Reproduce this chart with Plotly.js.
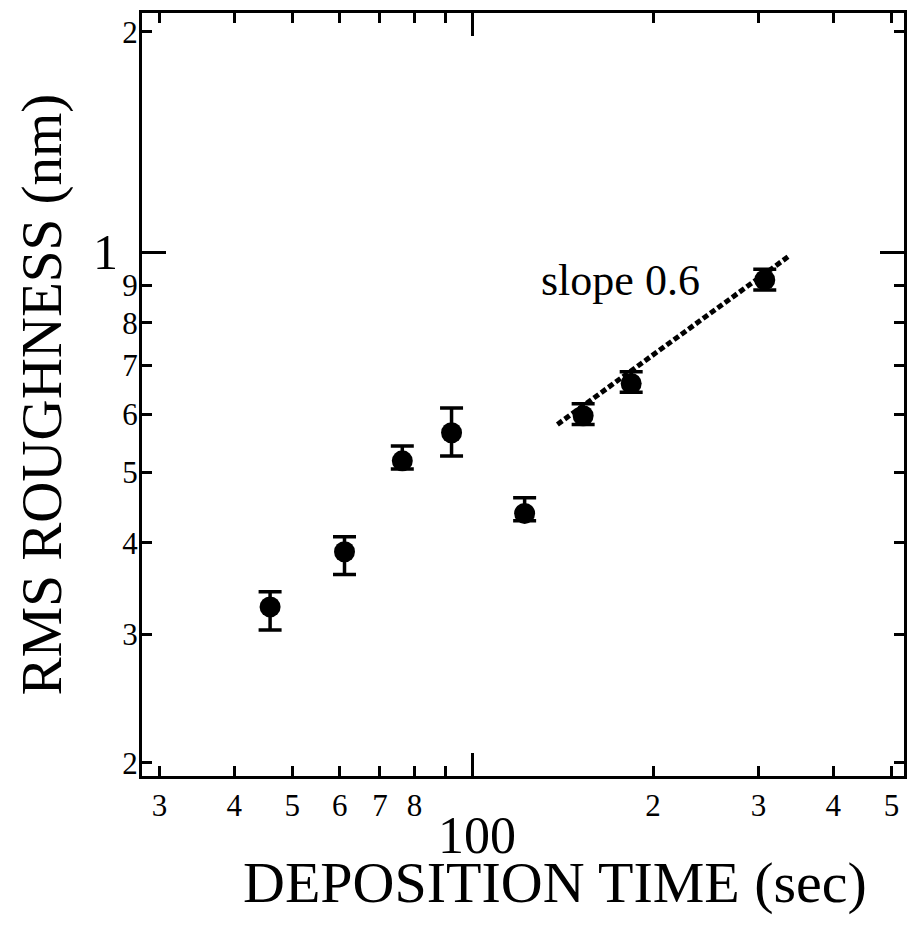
<!DOCTYPE html>
<html>
<head>
<meta charset="utf-8">
<script src="https://cdn.plot.ly/plotly-3.0.1.min.js"></script>
<style>html,body{margin:0;padding:0;background:#fff;}#chart{width:908px;height:935px;}</style>
</head>
<body>
<div id="chart"></div>
<script>
// Data (log-log)
var depositionTime = [45.9, 61.1, 76.3, 92.2, 122.1, 152.9, 183.9, 307.3];   // sec
var rmsRoughness   = [0.327, 0.389, 0.518, 0.566, 0.439, 0.597, 0.661, 0.916]; // nm
var errPlus        = [0.016, 0.019, 0.025, 0.046, 0.022, 0.023, 0.025, 0.031];
var errMinus       = [0.023, 0.027, 0.013, 0.040, 0.010, 0.016, 0.018, 0.029];

// slope 0.6 fit line endpoints
var fitX = [138.5, 336];
var fitY = [0.581, 0.985];

// ticks
var xTickVals = [30, 40, 50, 60, 70, 80, 90, 200, 300, 400, 500];
var xTickText = ['3', '4', '5', '6', '7', '8', '', '2', '3', '4', '5'];
var yTickVals = [0.2, 0.3, 0.4, 0.5, 0.6, 0.7, 0.8, 0.9, 2];
var yTickText = ['2', '3', '4', '5', '6', '7', '8', '9', '2'];
var xMajor = [100];
var yMajor = [1];

var FONT = "'Liberation Serif', serif";

var traces = [
  {
    x: depositionTime, y: rmsRoughness, type: 'scatter', mode: 'markers',
    marker: {color: '#000', size: 21},
    error_y: {type: 'data', symmetric: false, array: errPlus, arrayminus: errMinus,
              color: '#000', thickness: 3.5, width: 11.5},
    showlegend: false, hoverinfo: 'skip'
  },
  {
    x: fitX, y: fitY, type: 'scatter', mode: 'lines',
    line: {color: '#000', width: 5, dash: '6px,3px'},
    showlegend: false, hoverinfo: 'skip'
  }
];

var axisCommon = {
  type: 'log', showgrid: false, zeroline: false,
  showline: true, linecolor: '#000', linewidth: 3, mirror: 'allticks',
  ticks: 'inside', ticklen: 10, tickwidth: 3, tickcolor: '#000',
  tickmode: 'array', tickfont: {family: FONT, size: 31, color: '#000'}
};

var layout = {
  width: 908, height: 935,
  margin: {l: 142, r: 4, t: 13, b: 159},
  paper_bgcolor: '#fff', plot_bgcolor: '#fff',
  font: {family: FONT, color: '#000'},
  xaxis: Object.assign({}, axisCommon, {
    range: [1.448, 2.720],
    tickvals: xTickVals, ticktext: xTickText,
    ticklabelstandoff: 0,
    minor: {tickmode: 'array', tickvals: xMajor, ticks: 'inside', ticklen: 23, tickwidth: 3, tickcolor: '#000'}
  }),
  yaxis: Object.assign({}, axisCommon, {
    range: [-0.7168, 0.327],
    tickvals: yTickVals, ticktext: yTickText,
    ticklabelstandoff: -5,
    minor: {tickmode: 'array', tickvals: yMajor, ticks: 'inside', ticklen: 24, tickwidth: 3, tickcolor: '#000'}
  }),
  annotations: [
    {text: '1', xref: 'paper', x: 0, xanchor: 'right', xshift: -22,
     yref: 'y', y: 0, yanchor: 'middle', showarrow: false,
     font: {family: FONT, size: 50, color: '#000'}},
    {text: '100', xref: 'x', x: 2, xanchor: 'center', xshift: 4,
     yref: 'paper', y: 0, yanchor: 'middle', yshift: -59, showarrow: false,
     font: {family: FONT, size: 52, color: '#000'}},
    {text: 'slope 0.6', xref: 'paper', x: 0.521, xanchor: 'left',
     yref: 'paper', y: 0.649, yanchor: 'middle', showarrow: false,
     font: {family: FONT, size: 44, color: '#000'}},
    {text: 'DEPOSITION TIME (sec)', xref: 'paper', x: 0.542, xanchor: 'center',
     yref: 'paper', y: 0, yanchor: 'middle', yshift: -106, showarrow: false,
     font: {family: FONT, size: 58, color: '#000'}},
    {text: 'RMS ROUGHNESS (nm)', xref: 'paper', x: 0, xanchor: 'center', xshift: -101,
     yref: 'paper', y: 0.5, yanchor: 'middle', textangle: -90, showarrow: false,
     font: {family: FONT, size: 57, color: '#000'}}
  ]
};

Plotly.newPlot('chart', traces, layout, {staticPlot: true, displayModeBar: false});
</script>
</body>
</html>
